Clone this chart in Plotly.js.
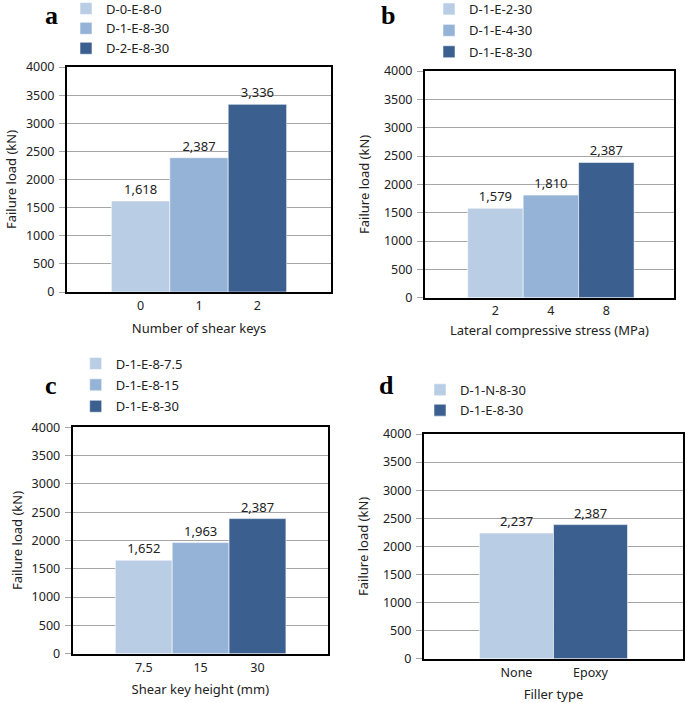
<!DOCTYPE html>
<html>
<head>
<meta charset="utf-8">
<script src="https://cdn.plot.ly/plotly-3.0.1.min.js"></script>
<style>html,body{margin:0;padding:0;background:#fff}#chart{width:685px;height:703px}</style>
</head>
<body>
<div id="chart"></div>
<script>
// ---- data ----
const aCats = ['0', '1', '2'];
const aNames = ['D-0-E-8-0', 'D-1-E-8-30', 'D-2-E-8-30'];
const aVals = [1618, 2387, 3336];

const bCats = ['2', '4', '8'];
const bNames = ['D-1-E-2-30', 'D-1-E-4-30', 'D-1-E-8-30'];
const bVals = [1579, 1810, 2387];

const cCats = ['7.5', '15', '30'];
const cNames = ['D-1-E-8-7.5', 'D-1-E-8-15', 'D-1-E-8-30'];
const cVals = [1652, 1963, 2387];

const dCats = ['None', 'Epoxy'];
const dNames = ['D-1-N-8-30', 'D-1-E-8-30'];
const dVals = [2237, 2387];

const colors3 = ['#B9CDE5', '#95B3D7', '#3B5F8F'];
const colors2 = ['#B9CDE5', '#3B5F8F'];

const FONT = 'Noto Sans, Open Sans, sans-serif';
const TXT = '#222';

function panel(cats, names, vals, colors, ax, legendId) {
  return cats.map((c, i) => ({
    type: 'bar',
    x: [c],
    y: [vals[i]],
    name: names[i],
    legendgroup: legendId + '_' + i,
    width: 1,
    marker: { color: colors[i], line: { color: 'rgba(255,255,255,0.7)', width: 0.8 } },
    texttemplate: '%{y:,}',
    textposition: 'outside',
    cliponaxis: false,
    textfont: { family: FONT, size: 13, color: TXT },
    xaxis: 'x' + ax,
    yaxis: 'y' + ax,
    legend: legendId,
    hoverinfo: 'x+y'
  }));
}

const data = [].concat(
  panel(aCats, aNames, aVals, colors3, '', 'legend'),
  panel(bCats, bNames, bVals, colors3, '2', 'legend2'),
  panel(cCats, cNames, cVals, colors3, '3', 'legend3'),
  panel(dCats, dNames, dVals, colors2, '4', 'legend4')
);

const W = 685, H = 703;
const px = v => v / W;
const py = v => 1 - v / H;

function yax(top, bottom, anchor, tstand) {
  return {
    domain: [py(bottom), py(top)],
    anchor: anchor,
    range: [0, 4000],
    dtick: 500,
    showgrid: true,
    gridcolor: '#A6A6A6',
    gridwidth: 1,
    zeroline: false,
    showline: true,
    mirror: true,
    linecolor: '#000',
    linewidth: 2,
    ticks: 'outside',
    ticklen: 6,
    tickcolor: '#A6A6A6',
    tickfont: { family: FONT, size: 12.5, color: TXT },
    ticklabelstandoff: 2,
    automargin: false,
    title: { text: 'Failure load (kN)', font: { family: FONT, size: 13, color: TXT }, standoff: tstand },
    fixedrange: true
  };
}
function xax(left, right, range, anchor, title, lstand, tstand) {
  return {
    domain: [px(left), px(right)],
    anchor: anchor,
    type: 'category',
    range: range,
    showgrid: false,
    zeroline: false,
    showline: true,
    mirror: true,
    linecolor: '#000',
    linewidth: 2,
    ticks: '',
    tickfont: { family: FONT, size: 12.5, color: TXT },
    ticklabelstandoff: lstand,
    automargin: false,
    title: { text: title, font: { family: FONT, size: 13, color: TXT }, standoff: tstand },
    fixedrange: true
  };
}
function leg(x, y, gap) {
  return {
    x: x, y: y, xanchor: 'left', yanchor: 'top',
    bgcolor: 'rgba(0,0,0,0)',
    font: { family: FONT, size: 13, color: TXT },
    orientation: 'v',
    traceorder: 'grouped',
    tracegroupgap: gap
  };
}

const letterFont = { family: 'Liberation Serif, Times New Roman, serif', size: 26, color: '#000' };

const layout = {
  width: W, height: H,
  margin: { l: 0, r: 0, t: 0, b: 0, autoexpand: false },
  paper_bgcolor: '#fff',
  plot_bgcolor: '#fff',
  barmode: 'overlay',
  showlegend: true,
  xaxis: xax(67, 331, [-1.26, 3.26], 'y', 'Number of shear keys', 1, 11),
  yaxis: yax(67, 292, 'x', 6),
  xaxis2: xax(425, 674, [-1.27, 3.22], 'y2', 'Lateral compressive stress (MPa)', 0, 8),
  yaxis2: yax(71, 297.7, 'x2', 11),
  xaxis3: xax(72.7, 328, [-1.25, 3.24], 'y3', 'Shear key height (mm)', 1, 10),
  yaxis3: yax(427.3, 653.7, 'x3', 6),
  xaxis4: xax(424, 683, [-1.25, 2.25], 'y4', 'Filler type', 1, 12),
  yaxis4: yax(434, 658.7, 'x4', 11),
  legend: leg(px(66), py(-6.5), 0),
  legend2: leg(px(429), py(-6), 1.5),
  legend3: leg(px(75.7), py(348.5), 1.5),
  legend4: leg(px(420), py(374.8), 0.5),
  annotations: [
    { text: '<b>a</b>', x: px(51), y: py(16), xref: 'paper', yref: 'paper', xanchor: 'center', yanchor: 'middle', showarrow: false, font: letterFont },
    { text: '<b>b</b>', x: px(388), y: py(16), xref: 'paper', yref: 'paper', xanchor: 'center', yanchor: 'middle', showarrow: false, font: letterFont },
    { text: '<b>c</b>', x: px(51), y: py(386), xref: 'paper', yref: 'paper', xanchor: 'center', yanchor: 'middle', showarrow: false, font: letterFont },
    { text: '<b>d</b>', x: px(386), y: py(386), xref: 'paper', yref: 'paper', xanchor: 'center', yanchor: 'middle', showarrow: false, font: letterFont }
  ]
};

Plotly.newPlot('chart', data, layout, { displayModeBar: false, staticPlot: true });
</script>
</body>
</html>
